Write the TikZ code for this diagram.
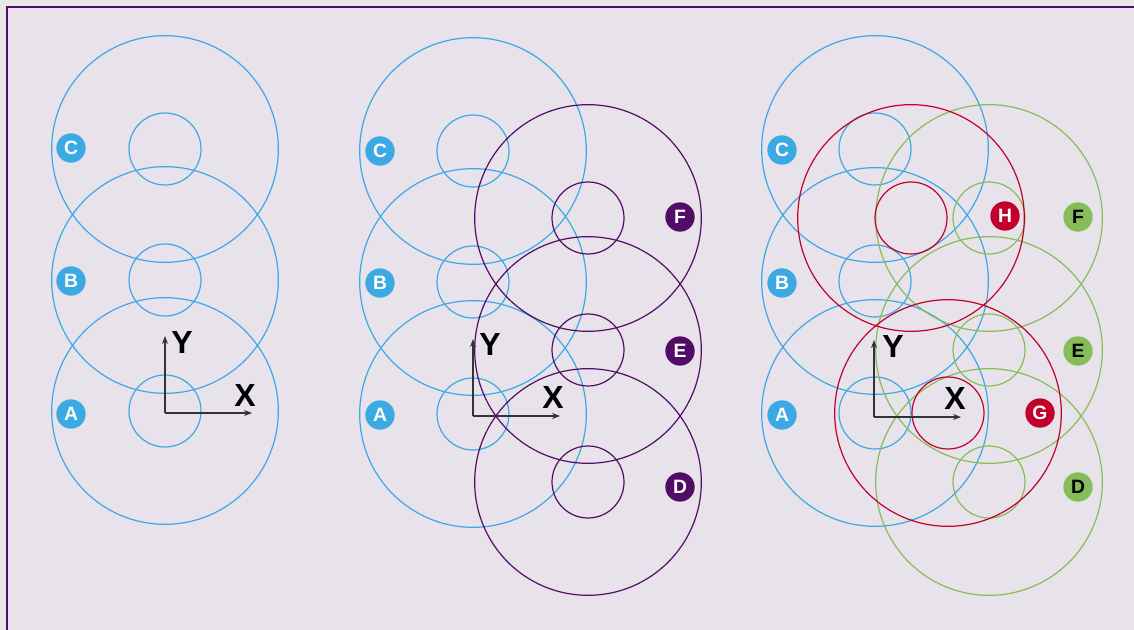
\documentclass[tikz,border=0pt]{standalone}
\usepackage{fontspec}
\setmainfont{Liberation Sans}
\usetikzlibrary{arrows.meta}

\definecolor{sky}{HTML}{3BA9E4}
\definecolor{plum}{HTML}{530B68}
\definecolor{crimson}{HTML}{C3002C}
\definecolor{leaf}{HTML}{86BD5A}
\definecolor{paper}{HTML}{E8E2EA}
\definecolor{margin}{HTML}{E9E9E9}

\tikzset{
  ring/.style={line width=0.9pt},
  tag/.style={circle, minimum size=22pt, inner sep=0pt, font=\fontsize{14.5}{14.5}\selectfont\bfseries},
  axis/.style={-{Stealth[length=6pt,width=4.5pt]}, line width=0.8pt, draw=black!80},
  axlabel/.style={font=\fontsize{24}{24}\selectfont\bfseries},
}

\begin{document}
\begin{tikzpicture}[x=0.75pt, y=-0.75pt]
    % Page and frame
    \useasboundingbox (0,0) rectangle (1134,630);
    \fill[margin] (0,0) rectangle (1134,630);
    \fill[paper] (6.5,7.5) rectangle (1134,630);
    \draw[plum, line width=1.5pt] (6.5,630) -- (6.5,7.5) -- (1134,7.5);

    % Centres
    \coordinate (a1) at (165,411);
    \coordinate (b1) at (165,280);
    \coordinate (c1) at (165,149);
    \coordinate (a2) at (473,414);
    \coordinate (b2) at (473,282);
    \coordinate (c2) at (473,151);
    \coordinate (d2) at (588,482);
    \coordinate (e2) at (588,350);
    \coordinate (f2) at (588,218);
    \coordinate (a3) at (875,413);
    \coordinate (b3) at (875,281);
    \coordinate (c3) at (875,149);
    \coordinate (d3) at (989,482);
    \coordinate (e3) at (989,350);
    \coordinate (f3) at (989,218);
    \coordinate (g3) at (948,413);
    \coordinate (h3) at (911,218);

    % Left panel
    \draw[ring, sky] (a1) circle[radius=85pt] (a1) circle[radius=27pt];
    \draw[ring, sky] (b1) circle[radius=85pt] (b1) circle[radius=27pt];
    \draw[ring, sky] (c1) circle[radius=85pt] (c1) circle[radius=27pt];
    \node[tag, fill=sky, text=white] (tagA1) at (71,414) {A};
    \node[tag, fill=sky, text=white] (tagB1) at (71,281) {B};
    \node[tag, fill=sky, text=white] (tagC1) at (71,148) {C};

    % Middle panel
    \draw[ring, sky] (a2) circle[radius=85pt] (a2) circle[radius=27pt];
    \draw[ring, sky] (b2) circle[radius=85pt] (b2) circle[radius=27pt];
    \draw[ring, sky] (c2) circle[radius=85pt] (c2) circle[radius=27pt];
    \draw[ring, plum] (d2) circle[radius=85pt] (d2) circle[radius=27pt];
    \draw[ring, plum] (e2) circle[radius=85pt] (e2) circle[radius=27pt];
    \draw[ring, plum] (f2) circle[radius=85pt] (f2) circle[radius=27pt];
    \node[tag, fill=sky, text=white] (tagA2) at (380,415) {A};
    \node[tag, fill=sky, text=white] (tagB2) at (380,283) {B};
    \node[tag, fill=sky, text=white] (tagC2) at (380,151) {C};
    \node[tag, fill=plum, text=white] (tagD2) at (680,487) {D};
    \node[tag, fill=plum, text=white] (tagE2) at (680,351) {E};
    \node[tag, fill=plum, text=white] (tagF2) at (680,217) {F};

    % Right panel
    \draw[ring, sky] (a3) circle[radius=85pt] (a3) circle[radius=27pt];
    \draw[ring, sky] (b3) circle[radius=85pt] (b3) circle[radius=27pt];
    \draw[ring, sky] (c3) circle[radius=85pt] (c3) circle[radius=27pt];
    \draw[ring, leaf] (d3) circle[radius=85pt] (d3) circle[radius=27pt];
    \draw[ring, leaf] (e3) circle[radius=85pt] (e3) circle[radius=27pt];
    \draw[ring, leaf] (f3) circle[radius=85pt] (f3) circle[radius=27pt];
    \draw[ring, crimson] (g3) circle[radius=85pt] (g3) circle[radius=27pt];
    \draw[ring, crimson] (h3) circle[radius=85pt] (h3) circle[radius=27pt];
    \node[tag, fill=sky, text=white] (tagA3) at (782,415) {A};
    \node[tag, fill=sky, text=white] (tagB3) at (782,283) {B};
    \node[tag, fill=sky, text=white] (tagC3) at (782,150) {C};
    \node[tag, fill=leaf, text=black] (tagD3) at (1078,487) {D};
    \node[tag, fill=leaf, text=black] (tagE3) at (1078,351) {E};
    \node[tag, fill=leaf, text=black] (tagF3) at (1078,217) {F};
    \node[tag, fill=crimson, text=white] (tagG3) at (1040,413) {G};
    \node[tag, fill=crimson, text=white] (tagH3) at (1005,216) {H};

    % Axes
    \coordinate (o1) at (165,413);
    \coordinate (y1) at (165,336);
    \coordinate (x1) at (252,413);
    \draw[axis] (o1) -- (y1);
    \draw[axis] (o1) -- (x1);
    \node[axlabel] (ly1) at (182,342) {Y};
    \node[axlabel] (lx1) at (245,395) {X};

    \coordinate (o2) at (473,416);
    \coordinate (y2) at (473,339);
    \coordinate (x2) at (560,416);
    \draw[axis] (o2) -- (y2);
    \draw[axis] (o2) -- (x2);
    \node[axlabel] (ly2) at (490,344) {Y};
    \node[axlabel] (lx2) at (553,397) {X};

    \coordinate (o3) at (874,417);
    \coordinate (y3) at (874,340);
    \coordinate (x3) at (961,417);
    \draw[axis] (o3) -- (y3);
    \draw[axis] (o3) -- (x3);
    \node[axlabel] (ly3) at (893,346) {Y};
    \node[axlabel] (lx3) at (955,398) {X};
\end{tikzpicture}
\end{document}
